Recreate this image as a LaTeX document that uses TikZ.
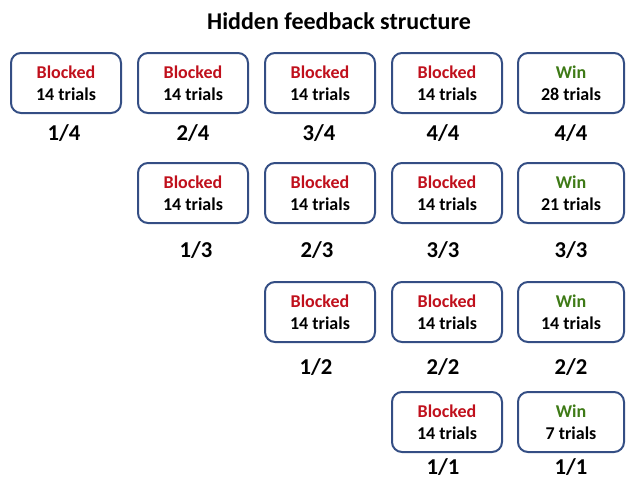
\documentclass[tikz,border=0pt]{standalone}
\usepackage{fontspec}
\setmainfont{Carlito}
\usetikzlibrary{positioning}
\definecolor{blockred}{RGB}{192,16,28}
\definecolor{wingreen}{RGB}{62,122,22}
\definecolor{boxblue}{RGB}{52,78,132}
\tikzset{
  trialbox/.style={draw=boxblue, line width=1.5pt, rounded corners=7.5pt,
    minimum width=82.5pt, minimum height=45pt, align=center,
    font=\fontsize{13.5}{16.5}\selectfont\bfseries, inner sep=0pt},
  winbox/.style={trialbox, minimum width=79.5pt},
  fraclabel/.style={font=\fontsize{17}{20}\selectfont\bfseries},
  heading/.style={font=\fontsize{18}{22}\selectfont\bfseries}
}
\newcommand{\blk}{\textcolor{blockred}{Blocked}\\14 trials}
\newcommand{\winn}[1]{\textcolor{wingreen}{Win}\\#1 trials}
\begin{document}
\begin{tikzpicture}[x=0.75pt,y=-0.75pt]
\useasboundingbox (0,0) rectangle (626,479);
\node[heading] (title) at (339,21) {Hidden feedback structure};

% row of four stages
\node[trialbox] (a1) at (66,83) {\blk};
\node[trialbox] (a2) at (193,83) {\blk};
\node[trialbox] (a3) at (320,83) {\blk};
\node[trialbox] (a4) at (447,83) {\blk};
\node[winbox] (a5) at (571,83) {\winn{28}};
\node[fraclabel] (la1) at (64,133) {1/4};
\node[fraclabel] (la2) at (193,133) {2/4};
\node[fraclabel] (la3) at (319,133) {3/4};
\node[fraclabel] (la4) at (443,133) {4/4};
\node[fraclabel] (la5) at (571,133) {4/4};

% row of three stages
\node[trialbox] (b2) at (193,193) {\blk};
\node[trialbox] (b3) at (320,193) {\blk};
\node[trialbox] (b4) at (447,193) {\blk};
\node[winbox] (b5) at (571,193) {\winn{21}};
\node[fraclabel] (lb2) at (196,250) {1/3};
\node[fraclabel] (lb3) at (317,250) {2/3};
\node[fraclabel] (lb4) at (443,250) {3/3};
\node[fraclabel] (lb5) at (571,250) {3/3};

% row of two stages
\node[trialbox] (c3) at (320,312) {\blk};
\node[trialbox] (c4) at (447,312) {\blk};
\node[winbox] (c5) at (571,312) {\winn{14}};
\node[fraclabel] (lc3) at (316,367) {1/2};
\node[fraclabel] (lc4) at (443,367) {2/2};
\node[fraclabel] (lc5) at (571,367) {2/2};

% single stage
\node[trialbox] (d4) at (447,422) {\blk};
\node[winbox] (d5) at (571,422) {\winn{7}};
\node[fraclabel] (ld4) at (443,467) {1/1};
\node[fraclabel] (ld5) at (571,467) {1/1};
\end{tikzpicture}
\end{document}
